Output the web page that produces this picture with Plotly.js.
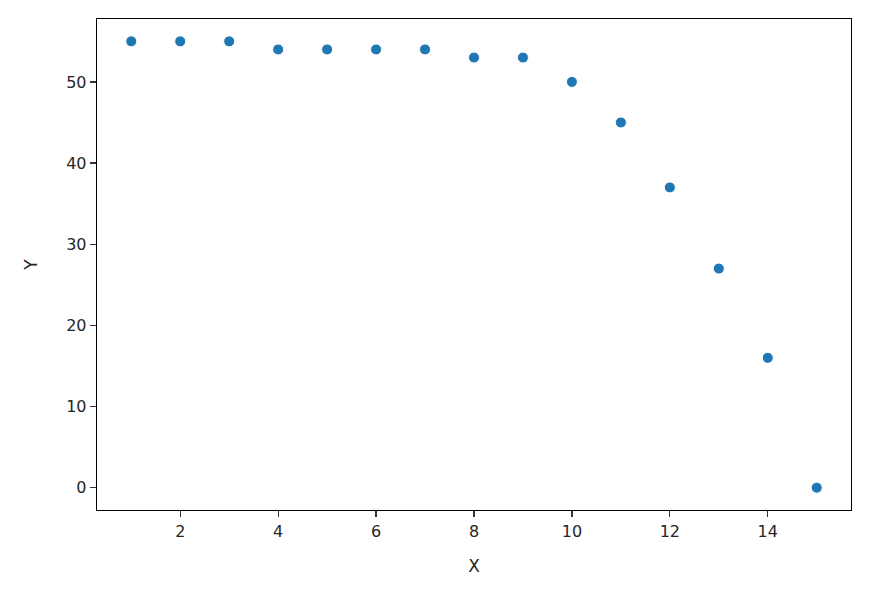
<!DOCTYPE html>
<html>
<head>
<meta charset="utf-8">
<script src="https://cdn.plot.ly/plotly-3.0.1.min.js"></script>
<style>
  html, body { margin: 0; padding: 0; background: #fff; }
  #chart { width: 871px; height: 590px; }
</style>
</head>
<body>
<div id="chart"></div>
<script>
var xValues = [1, 2, 3, 4, 5, 6, 7, 8, 9, 10, 11, 12, 13, 14, 15];
var yValues = [55, 55, 55, 54, 54, 54, 54, 53, 53, 50, 45, 37, 27, 16, 0];
var xTicks = [2, 4, 6, 8, 10, 12, 14];
var yTicks = [0, 10, 20, 30, 40, 50];

var trace = {
  x: xValues,
  y: yValues,
  mode: 'markers',
  type: 'scatter',
  marker: { color: '#1f77b4', size: 11, line: { color: '#ffffff', width: 1 } },
  hoverinfo: 'none'
};

var axisStyle = {
  showgrid: false,
  zeroline: false,
  showline: true,
  mirror: true,
  linecolor: '#000000',
  linewidth: 1.3,
  ticks: 'outside',
  ticklen: 6,
  tickwidth: 1.3,
  tickcolor: '#333333',
  tickfont: { family: 'DejaVu Sans', size: 16, color: '#262626' }
};

var layout = {
  width: 871,
  height: 590,
  margin: { l: 97, r: 20, t: 19, b: 80 },
  paper_bgcolor: '#ffffff',
  plot_bgcolor: '#ffffff',
  showlegend: false,
  xaxis: Object.assign({}, axisStyle, {
    range: [0.3, 15.7],
    tickvals: xTicks,
    title: { text: 'X', font: { family: 'DejaVu Sans', size: 17, color: '#262626' }, standoff: 20 }
  }),
  yaxis: Object.assign({}, axisStyle, {
    range: [-2.75, 57.75],
    tickvals: yTicks,
    title: { text: 'Y', font: { family: 'DejaVu Sans', size: 17, color: '#262626' }, standoff: 24 }
  })
};

Plotly.newPlot('chart', [trace], layout, { staticPlot: true });
</script>
</body>
</html>
